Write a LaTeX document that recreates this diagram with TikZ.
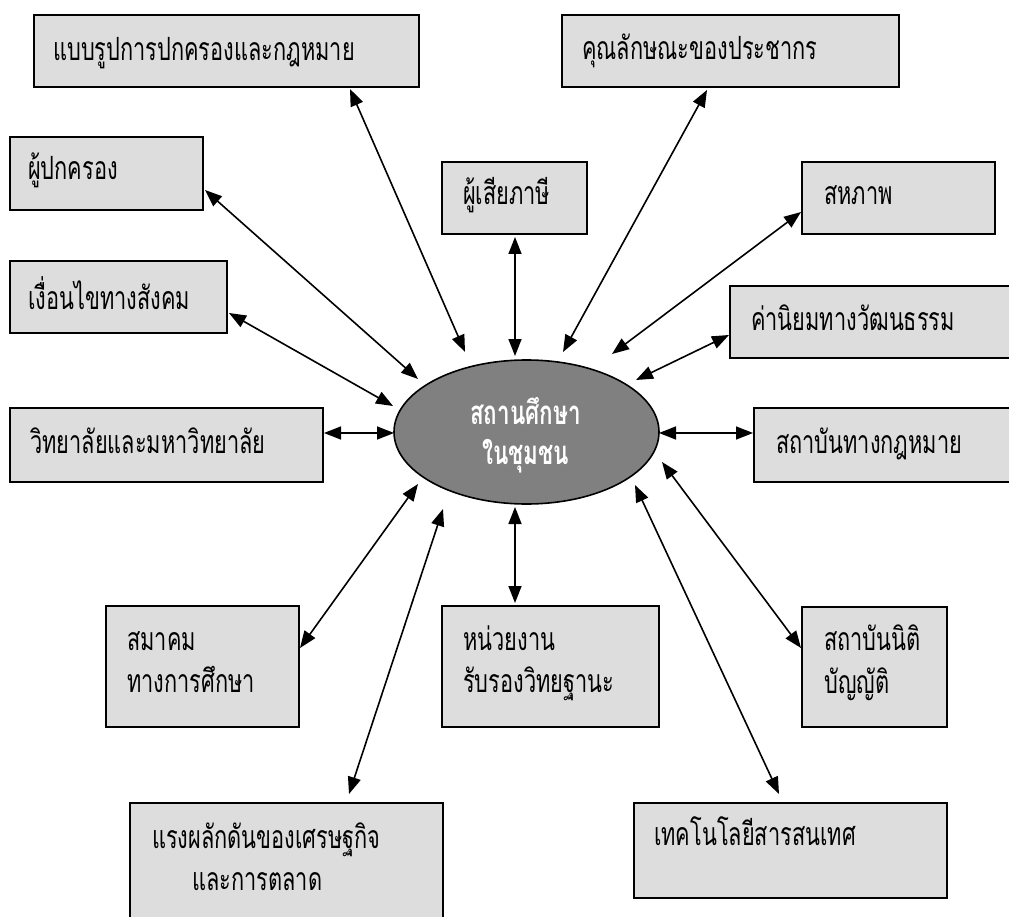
\documentclass[tikz,border=0pt]{standalone}
\usepackage{fontspec}
\newfontfamily\thai[Script=Thai,FakeStretch=0.68]{Loma}
\usetikzlibrary{arrows.meta,calc,shapes.geometric}
\definecolor{boxgray}{HTML}{DDDDDD}
\definecolor{ellgray}{HTML}{808080}
\begin{document}
\begin{tikzpicture}[x=1pt,y=-1pt,
  box/.style={draw=black,line width=1.6pt,fill=boxgray,rectangle,anchor=north west,inner sep=0pt,outer sep=0pt},
  lbl/.style={anchor=base west,inner sep=0pt,font=\thai\fontsize{32}{38}\selectfont,text=black},
  clbl/.style={anchor=base west,inner sep=0pt,font=\thai\bfseries\fontsize{33}{38}\selectfont,text=white},
  bi/.style={line width=1.6pt,{Triangle[length=17pt,width=13pt]}-{Triangle[length=17pt,width=13pt]}}]
\useasboundingbox (0,0) rectangle (1009,917);
\clip (0,0) rectangle (1009,917);
\fill[white] (0,0) rectangle (1009,917);
% boxes
\node[box,minimum width=385pt,minimum height=72pt] (b1) at (34,15) {};
\node[box,minimum width=337pt,minimum height=72pt] (b2) at (562,15) {};
\node[box,minimum width=193pt,minimum height=73pt] (b3) at (10,137) {};
\node[box,minimum width=145pt,minimum height=72pt] (b4) at (442,162) {};
\node[box,minimum width=193pt,minimum height=72pt] (b6) at (802,162) {};
\node[box,minimum width=217pt,minimum height=72pt] (b5) at (10,261) {};
\node[box,minimum width=300pt,minimum height=72pt] (b8) at (730,286) {};
\node[box,minimum width=313pt,minimum height=74pt] (b7) at (10,408) {};
\node[box,minimum width=280pt,minimum height=74pt] (b9) at (754,408) {};
\node[box,minimum width=193pt,minimum height=121pt] (b10) at (106,606) {};
\node[box,minimum width=217pt,minimum height=121pt] (b11) at (442,606) {};
\node[box,minimum width=145pt,minimum height=120pt] (b12) at (802,607) {};
\node[box,minimum width=313pt,minimum height=140pt] (b13) at (130,803) {};
\node[box,minimum width=313pt,minimum height=95pt] (b14) at (634,803) {};
% ellipse
\node[ellipse,draw=black,line width=1.6pt,fill=ellgray,minimum width=265pt,minimum height=144pt,inner sep=0pt] (c) at (526.5,432) {};
% labels
\node[lbl] (t1) at ($(b1.north west)+(19,46)$) {แบบรูปการปกครองและกฎหมาย};
\node[lbl] (t2) at ($(b2.north west)+(20,45)$) {คุณลักษณะของประชากร};
\node[lbl] (t3) at ($(b3.north west)+(18,43)$) {ผู้ปกครอง};
\node[lbl] (t4) at ($(b4.north west)+(21,43)$) {ผู้เสียภาษี};
\node[lbl] (t6) at ($(b6.north west)+(22,43)$) {สหภาพ};
\node[lbl] (t5) at ($(b5.north west)+(18,48)$) {เงื่อนไขทางสังคม};
\node[lbl] (t8) at ($(b8.north west)+(21,44)$) {ค่านิยมทางวัฒนธรรม};
\node[lbl] (t7) at ($(b7.north west)+(20,45)$) {วิทยาลัยและมหาวิทยาลัย};
\node[lbl] (t9) at ($(b9.north west)+(22,45)$) {สถาบันทางกฎหมาย};
\node[lbl] (t10a) at ($(b10.north west)+(21,44)$) {สมาคม};
\node[lbl] (t10b) at ($(b10.north west)+(21,86)$) {ทางการศึกษา};
\node[lbl] (t11a) at ($(b11.north west)+(21,44)$) {หน่วยงาน};
\node[lbl] (t11b) at ($(b11.north west)+(21,86)$) {รับรองวิทยฐานะ};
\node[lbl] (t12a) at ($(b12.north west)+(22,43)$) {สถาบันนิติ};
\node[lbl] (t12b) at ($(b12.north west)+(22,86)$) {บัญญัติ};
\node[lbl] (t13a) at ($(b13.north west)+(22,45)$) {แรงผลักดันของเศรษฐกิจ};
\node[lbl] (t13b) at ($(b13.north west)+(62,87)$) {และการตลาด};
\node[lbl] (t14) at ($(b14.north west)+(20,42)$) {เทคโนโลยีสารสนเทศ};
\node[clbl] (tc1) at (470,424) {สถานศึกษา};
\node[clbl] (tc2) at (482,464) {ในชุมชน};
% connectors
\draw[bi] ($(c)+(-61.5,-80)$) -- ($(b1.south west)+(316,2)$);
\draw[bi] ($(c)+(-108.5,-53)$) -- ($(b3.south east)+(2,-20)$);
\draw[bi] ($(c)+(-133.5,-26)$) -- ($(b5.south east)+(2,-20)$);
\draw[bi] ($(c)+(-132.5,1)$) -- ($(b7.north east)+(1,25)$);
\draw[bi] ($(c)+(-11.5,-76)$) -- ($(b4.south west)+(73,3)$);
\draw[bi] ($(c)+(36.5,-80)$) -- ($(b2.south west)+(145,3)$);
\draw[bi] ($(c)+(85.5,-78)$) -- ($(b6.south west)+(-1,-22)$);
\draw[bi] ($(c)+(109.5,-52)$) -- ($(b8.south west)+(-1,-23)$);
\draw[bi] ($(c)+(132.5,1)$) -- ($(b9.north west)+(-1,25)$);
\draw[bi] ($(c)+(-108.5,52)$) -- ($(b10.north east)+(1,42)$);
\draw[bi] ($(c)+(-83.5,77)$) -- ($(b13.north west)+(219,-9)$);
\draw[bi] ($(c)+(-11.5,75)$) -- ($(b11.north west)+(73,-3)$);
\draw[bi] ($(c)+(135.5,30)$) -- ($(b12.north west)+(-1,41)$);
\draw[bi] ($(c)+(108.5,53)$) -- ($(b14.north west)+(145,-9)$);
\end{tikzpicture}
\end{document}
